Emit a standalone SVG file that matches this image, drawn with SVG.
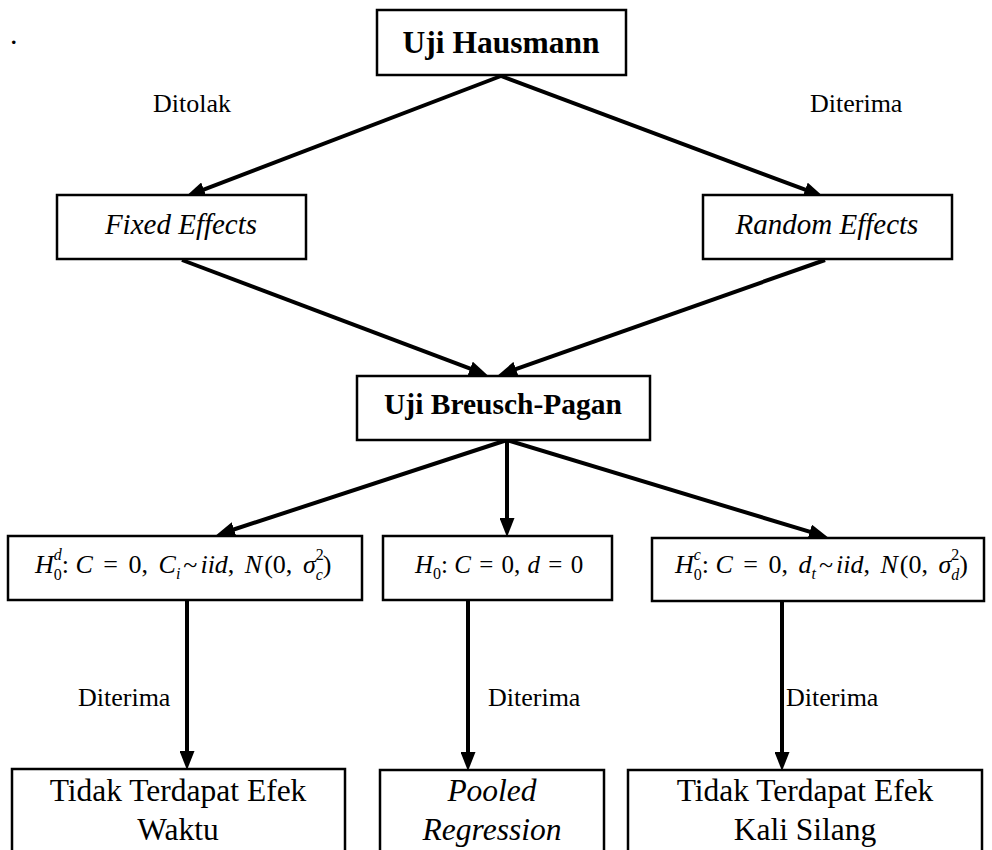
<svg xmlns="http://www.w3.org/2000/svg" width="992" height="850" viewBox="0 0 992 850">
<style>
.box{fill:#fff;stroke:#000;stroke-width:2.5}
.t{font-family:"Liberation Serif","Times New Roman",serif;fill:#000}
.b{font-weight:bold}
.i{font-style:italic}
.m{font-family:"Liberation Serif","Times New Roman",serif;font-size:26px;fill:#000}
.m2{font-family:"Liberation Serif","Times New Roman",serif;font-size:25px;fill:#000}
.s{font-size:16px}
.c{stroke:#000;stroke-width:4;fill:none;marker-end:url(#ah)}
</style>
<defs>
<marker id="ah" markerUnits="userSpaceOnUse" markerWidth="19" markerHeight="15" refX="10" refY="7.5" orient="auto">
<path d="M0,0 L19,7.5 L0,15 z" fill="#000"/>
</marker>
</defs>
<text class="t" x="10" y="44" font-size="30">.</text>
<g id="connectors">
<line class="c" x1="501" y1="76" x2="194.5" y2="193.1"/>
<line class="c" x1="501" y1="76" x2="814.5" y2="193.2"/>
<line class="c" x1="182" y1="260" x2="479.5" y2="372.2"/>
<line class="c" x1="825" y1="260" x2="506.5" y2="372.3"/>
<line class="c" x1="507" y1="440" x2="224.6" y2="532.5"/>
<line class="c" x1="507" y1="440" x2="507" y2="528"/>
<line class="c" x1="507" y1="440" x2="819.3" y2="534.7"/>
<line class="c" x1="187" y1="601" x2="187" y2="761"/>
<line class="c" x1="468" y1="601" x2="468" y2="762"/>
<line class="c" x1="782" y1="601" x2="782" y2="762"/>
<text class="t" x="153" y="112" font-size="26">Ditolak</text>
<text class="t" x="810" y="112" font-size="26">Diterima</text>
<text class="t" x="78" y="706" font-size="26">Diterima</text>
<text class="t" x="488" y="706" font-size="26">Diterima</text>
<text class="t" x="786" y="706" font-size="26">Diterima</text>
</g>
<g id="hausmann">
<rect class="box" x="377" y="10" width="249" height="65"/>
<text class="t b" x="501" y="53" font-size="31.5" text-anchor="middle">Uji Hausmann</text>
</g>
<g id="fixed">
<rect class="box" x="57" y="195" width="249" height="64"/>
<text class="t i" x="181" y="234" font-size="29" text-anchor="middle">Fixed Effects</text>
</g>
<g id="random">
<rect class="box" x="703" y="195" width="249" height="64"/>
<text class="t i" x="827" y="234" font-size="29" text-anchor="middle">Random Effects</text>
</g>
<g id="breusch">
<rect class="box" x="357" y="376" width="293" height="64"/>
<text class="t b" x="503" y="414" font-size="29.5" text-anchor="middle">Uji Breusch-Pagan</text>
</g>
<g id="h0d">
<rect class="box" x="8" y="536" width="354" height="64"/>
<text class="m" x="35" y="573"><tspan class="i">H</tspan><tspan class="s i" dy="-13">d</tspan><tspan class="s" dx="-8" dy="20">0</tspan><tspan dy="-7">: </tspan><tspan class="i">C</tspan><tspan dx="4"> = </tspan><tspan dx="4">0, </tspan><tspan class="i" dx="4">C</tspan><tspan class="s i" dy="6">i</tspan><tspan dy="-6" dx="3">~</tspan><tspan class="i" dx="3">iid</tspan>, <tspan class="i" dx="4">N</tspan><tspan dx="2">(0, </tspan><tspan class="i" dx="4">σ</tspan><tspan class="s" dy="-13">2</tspan><tspan class="s i" dx="-8" dy="20">c</tspan><tspan dy="-7">)</tspan></text>
</g>
<g id="h0">
<rect class="box" x="383" y="536" width="229" height="64"/>
<text class="m2" x="415" y="573"><tspan class="i">H</tspan><tspan class="s" dy="6">0</tspan><tspan dy="-6">: </tspan><tspan class="i">C</tspan><tspan dx="2"> = </tspan><tspan dx="2">0, </tspan><tspan class="i" dx="1">d</tspan><tspan dx="2"> = </tspan><tspan dx="2">0</tspan></text>
</g>
<g id="h0c">
<rect class="box" x="652" y="538" width="332" height="63"/>
<text class="m" x="675" y="573"><tspan class="i">H</tspan><tspan class="s i" dy="-13">c</tspan><tspan class="s" dx="-7.1" dy="20">0</tspan><tspan dy="-7">: </tspan><tspan class="i">C</tspan><tspan dx="4"> = </tspan><tspan dx="4">0, </tspan><tspan class="i" dx="4">d</tspan><tspan class="s i" dy="6">t</tspan><tspan dy="-6" dx="3">~</tspan><tspan class="i" dx="3">iid</tspan>, <tspan class="i" dx="4">N</tspan><tspan dx="2">(0, </tspan><tspan class="i" dx="4">σ</tspan><tspan class="s" dy="-13">2</tspan><tspan class="s i" dx="-8" dy="20">d</tspan><tspan dy="-7">)</tspan></text>
</g>
<g id="waktu">
<rect class="box" x="12" y="769" width="333" height="95"/>
<text class="t" x="178" y="801" font-size="31.5" text-anchor="middle">Tidak Terdapat Efek</text>
<text class="t" x="178" y="840" font-size="31.5" text-anchor="middle">Waktu</text>
</g>
<g id="pooled">
<rect class="box" x="380" y="770" width="224" height="95"/>
<text class="t i" x="492" y="801" font-size="31.5" text-anchor="middle">Pooled</text>
<text class="t i" x="492" y="840" font-size="31.5" text-anchor="middle">Regression</text>
</g>
<g id="silang">
<rect class="box" x="628" y="770" width="354" height="95"/>
<text class="t" x="805" y="801" font-size="31.5" text-anchor="middle">Tidak Terdapat Efek</text>
<text class="t" x="805" y="840" font-size="31.5" text-anchor="middle">Kali Silang</text>
</g>
</svg>
